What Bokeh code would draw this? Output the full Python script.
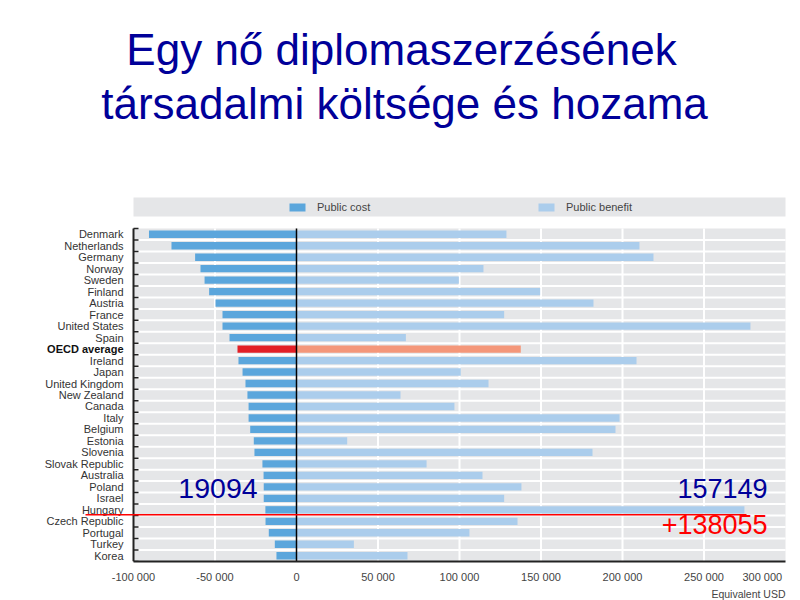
from bokeh.plotting import figure
from bokeh.models import (LinearAxis, FixedTicker, Range1d, Label, Legend, LegendItem,
                          Title, ColumnDataSource)
from bokeh.core.properties import value
from bokeh.embed import file_html
from bokeh.resources import INLINE

# ---------------- data ----------------
countries = ["Denmark", "Netherlands", "Germany", "Norway", "Sweden", "Finland", "Austria",
             "France", "United States", "Spain", "OECD average", "Ireland", "Japan",
             "United Kingdom", "New Zealand", "Canada", "Italy", "Belgium", "Estonia",
             "Slovenia", "Slovak Republic", "Australia", "Poland", "Israel", "Hungary",
             "Czech Republic", "Portugal", "Turkey", "Korea"]
public_cost = [-90500, -76700, -62200, -58900, -56400, -53600, -49700, -45400, -45400,
               -41100, -36200, -35600, -33100, -31300, -30100, -29400, -29400, -28400,
               -26200, -25800, -20900, -20200, -20100, -20100, -19094, -19000, -17000,
               -13300, -12300]
public_benefit = [128800, 210400, 219000, 114700, 99600, 149500, 182200, 127400, 278500,
                  67100, 137600, 208600, 100800, 117800, 63800, 96900, 198200, 195700,
                  31100, 181600, 79800, 114100, 138000, 127400, 274800, 135600, 106100,
                  35200, 68100]
x_ticks = [-100000, -50000, 0, 50000, 100000, 150000, 200000, 250000, 300000]
x_tick_labels = ["-100 000", "-50 000", "0", "50 000", "100 000", "150 000", "200 000",
                 "250 000", "300 000"]
title_lines = ["Egy nő diplomaszerzésének", "társadalmi költsége és hozama"]
hungary_cost_label = "19094"
hungary_total_label = "157149"
hungary_net_label = "+138055"
highlight = "OECD average"
marked = "Hungary"

# ---------------- geometry (pixels of the 800x600 page) ----------------
W, H = 800, 600
FL, FR, FB = 133, 785, 561          # plotting area edges
XMIN, XMAX = -100000, 300000
N = len(countries)
ROW_PX = (FB - 228) / N
XPX = (FR - FL) / (XMAX - XMIN)
Y0 = -0.5


def px_x(px):
    return XMIN + (px - FL) / XPX


def px_y(py):
    return Y0 + (FB - py) / ROW_PX


def mid_y(baseline_px, size_px):
    # y of the text middle for a given baseline
    return px_y(baseline_px - 0.35 * size_px)


ys = [N - 1 - i for i in range(N)]
hl = countries.index(highlight)
mk = countries.index(marked)

COST = "#5ba6dc"
BEN = "#abcdec"
COST_HL = "#e21f26"
BEN_HL = "#f4977a"
GRAY = "#e5e6e8"
NAVY = "#000099"
FONT = "Liberation Sans"

p = figure(width=W, height=H, output_backend="svg", toolbar_location=None,
           x_range=Range1d(px_x(0), px_x(W)), y_range=Range1d(px_y(FB), px_y(0)),
           x_axis_location=None, y_axis_location=None,
           min_border_left=0, min_border_right=0, min_border_top=0,
           min_border_bottom=H - FB)
p.outline_line_color = None
p.xgrid.visible = False
p.ygrid.visible = False
p.background_fill_color = "white"
p.border_fill_color = "white"

# plot background and legend band
p.quad(left=[XMIN], right=[XMAX], bottom=[-0.5], top=[N - 0.5], fill_color=GRAY,
       line_color=None)
p.quad(left=[XMIN], right=[XMAX], bottom=[px_y(216)], top=[px_y(197)], fill_color=GRAY,
       line_color=None)
# white grid lines
vx = [t for t in x_ticks if t not in (0, XMIN, XMAX)]
p.segment(x0=vx, x1=vx, y0=[-0.5] * len(vx), y1=[N - 0.5] * len(vx),
          line_color="white", line_width=2)
hy = [k + 0.5 for k in range(N - 1)]
p.segment(x0=[XMIN] * len(hy), x1=[XMAX] * len(hy), y0=hy, y1=hy,
          line_color="white", line_width=2)

idx = [i for i in range(N) if i != hl]
src = ColumnDataSource(dict(y=[ys[i] for i in idx], c=[public_cost[i] for i in idx],
                            b=[public_benefit[i] for i in idx]))
src_hl = ColumnDataSource(dict(y=[ys[hl]], c=[public_cost[hl]], b=[public_benefit[hl]]))
BH = 0.64
r_cost = p.hbar(y="y", left="c", right=0, height=BH, source=src, fill_color=COST,
                line_color=None)
r_ben = p.hbar(y="y", left=0, right="b", height=BH, source=src, fill_color=BEN,
               line_color=None)
p.hbar(y="y", left="c", right=0, height=BH, source=src_hl, fill_color=COST_HL,
       line_color=None)
p.hbar(y="y", left=0, right="b", height=BH, source=src_hl, fill_color=BEN_HL,
       line_color=None)

# zero line
p.segment(x0=[0], x1=[0], y0=[-0.5], y1=[N - 0.5], line_color="black", line_width=1.5)

# category axis (line, ticks between rows, labels)
p.segment(x0=[XMIN], x1=[XMIN], y0=[-0.5], y1=[N - 0.5], line_color="#222222",
          line_width=2)
bnd = [k - 0.5 for k in range(N + 1)]
p.segment(x0=[XMIN] * len(bnd), x1=[XMIN + 5 / XPX] * len(bnd), y0=bnd, y1=bnd,
          line_color="#222222", line_width=1.5)
lab_src = ColumnDataSource(dict(y=[ys[i] for i in idx], t=[countries[i] for i in idx]))
p.text(x=XMIN, y="y", text="t", source=lab_src, x_offset=-10, text_align="right",
       text_baseline="middle", text_font=value(FONT), text_font_size="11px",
       text_color="#333333")
p.text(x=[XMIN], y=[ys[hl]], text=[highlight], x_offset=-10, text_align="right",
       text_baseline="middle", text_font=value(FONT), text_font_size="11px",
       text_font_style="bold", text_color="#111111")

# value axis
xaxis = LinearAxis(ticker=FixedTicker(ticks=x_ticks), bounds=(XMIN, XMAX))
labels = list(x_tick_labels)
labels[-1] = labels[-1] + "\u00a0" * 6
xaxis.major_label_overrides = dict(zip(x_ticks, labels))
xaxis.major_tick_in = 0
xaxis.major_tick_out = 0
xaxis.minor_tick_line_color = None
xaxis.axis_line_color = "#222222"
xaxis.axis_line_width = 2
xaxis.major_label_standoff = 9
xaxis.major_label_text_font = FONT
xaxis.major_label_text_font_size = "11px"
xaxis.major_label_text_color = "#444444"
p.add_layout(xaxis, "below")
p.add_layout(Title(text="Equivalent USD", align="right", offset=W - FR,
                   text_font=FONT, text_font_size="10.5px", text_font_style="normal",
                   text_color="#444444", standoff=0), "below")

# legend
legend = Legend(items=[LegendItem(label="Public cost", renderers=[r_cost]),
                       LegendItem(label="Public benefit", renderers=[r_ben])],
                orientation="horizontal", location=(287, FB - 213), margin=0, padding=0,
                spacing=153, glyph_width=20, glyph_height=10, label_standoff=10,
                label_width=66, label_text_font=FONT, label_text_font_size="11px",
                label_text_color="#444444", background_fill_alpha=0,
                border_line_alpha=0)
p.add_layout(legend, "center")

# titles
TS = 44
p.add_layout(Label(x=px_x(401), y=mid_y(64, TS), text=title_lines[0], text_align="center",
                   text_baseline="middle", text_font=FONT, text_font_size=f"{TS}px",
                   text_color=NAVY))
p.add_layout(Label(x=px_x(404), y=mid_y(118, TS), text=title_lines[1], text_align="center",
                   text_baseline="middle", text_font=FONT, text_font_size=f"{TS}px",
                   text_color=NAVY))

# Hungary annotation
p.segment(x0=[px_x(85)], x1=[px_x(746)], y0=[px_y(514.3)], y1=[px_y(514.3)],
          line_color="#ff0000", line_width=1.5)
AS = 27
p.add_layout(Label(x=px_x(217.5), y=mid_y(497, AS), text=hungary_cost_label,
                   text_align="center", text_baseline="middle", text_font=FONT,
                   text_font_size="28.5px", text_color=NAVY))
p.add_layout(Label(x=px_x(767), y=mid_y(497, AS), text=hungary_total_label,
                   text_align="right", text_baseline="middle", text_font=FONT,
                   text_font_size=f"{AS}px", text_color=NAVY))
p.add_layout(Label(x=px_x(767), y=mid_y(533, AS), text=hungary_net_label,
                   text_align="right", text_baseline="middle", text_font=FONT,
                   text_font_size=f"{AS}px", text_color="#ff0000"))

open("out.html", "w").write(file_html(p, INLINE))
